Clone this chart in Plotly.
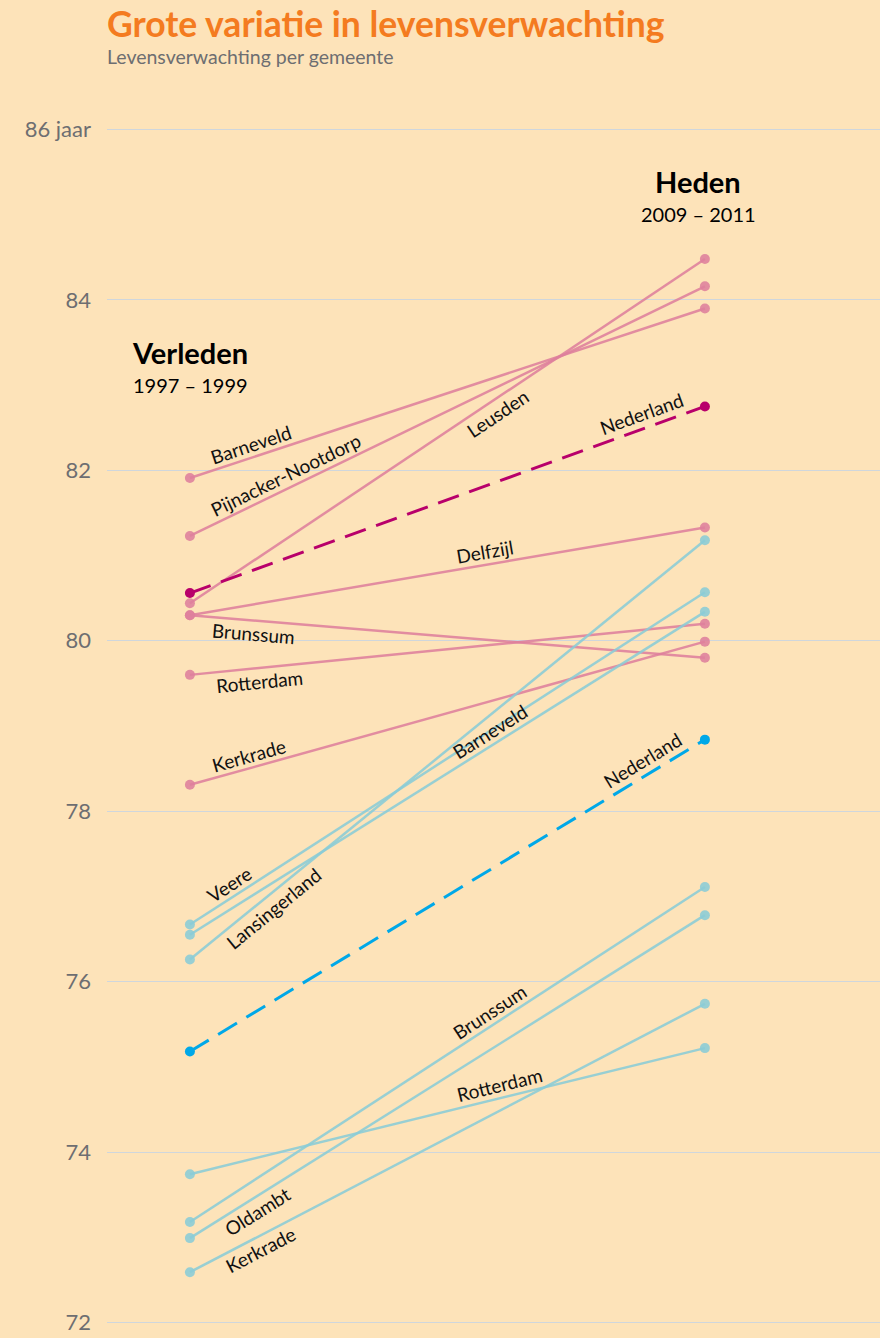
import math
import plotly.graph_objects as go

# Levensverwachting per gemeente: verleden (1997-1999) en heden (2009-2011)
vrouwen_namen = ["Barneveld", "Pijnacker-Nootdorp", "Leusden", "Delfzijl",
                 "Brunssum", "Rotterdam", "Kerkrade"]
vrouwen_verleden = [81.91, 81.23, 80.44, 80.30, 80.30, 79.60, 78.31]
vrouwen_heden = [83.90, 84.16, 84.48, 81.33, 79.80, 80.20, 79.99]

mannen_namen = ["Veere", "Barneveld", "Lansingerland", "Brunssum",
                "Oldambt", "Rotterdam", "Kerkrade"]
mannen_verleden = [76.67, 76.55, 76.26, 73.18, 72.99, 73.74, 72.59]
mannen_heden = [80.57, 80.34, 81.18, 77.11, 76.78, 75.22, 75.74]

nederland_vrouwen = [80.56, 82.75]
nederland_mannen = [75.18, 78.84]

y_ticks = [72, 74, 76, 78, 80, 82, 84, 86]
y_ticktext = ["72", "74", "76", "78", "80", "82", "84", "86 jaar"]

# label placement along each line: fraction along x and side (+1 above, -1 below)
vrouwen_label_pos = [(0.126, 1), (0.198, 1), (0.583, -1), (0.577, 1),
                     (0.126, -1), (0.132, -1), (0.12, 1)]
mannen_label_pos = [(0.089, 1), (0.596, 1), (0.146, -1), (0.596, 1),
                    (0.117, -1), (0.608, 1), (0.126, -1)]

W, H = 880, 1338
M_L, M_R, M_T, M_B = 107, 0, 120.5, 6.5
X_RANGE = [-0.161, 1.340]
Y_RANGE = [71.9, 86.1]
plot_w = W - M_L - M_R
plot_h = H - M_T - M_B
X_PX = plot_w / (X_RANGE[1] - X_RANGE[0])
Y_PX = plot_h / (Y_RANGE[1] - Y_RANGE[0])

BG = "#fde3b9"
PINK = "rgba(222,128,156,0.88)"
BLUE = "rgba(138,204,214,0.88)"
NL_PINK = "#b8006b"
NL_BLUE = "#00a8e8"
FONT = "Lato"

fig = go.Figure()
annotations = []


def add_label(text, v0, v1, t, side, offset=13):
    angle = math.atan((v1 - v0) * Y_PX / X_PX)
    y = v0 + t * (v1 - v0)
    d = side * offset
    annotations.append(dict(
        x=t, y=y, xref="x", yref="y", text=text, showarrow=False,
        textangle=-math.degrees(angle),
        xshift=-d * math.sin(angle), yshift=d * math.cos(angle),
        xanchor="center", yanchor="middle",
        font=dict(family=FONT, size=19, color="#111111"),
    ))


def add_line(v0, v1, color, width=2.5, dash="solid", msize=10):
    fig.add_trace(go.Scatter(
        x=[0, 1], y=[v0, v1], mode="lines+markers",
        line=dict(color=color, width=width, dash=dash),
        marker=dict(color=color, size=msize),
        hoverinfo="skip", showlegend=False,
    ))


for naam, a, b, (t, s) in zip(vrouwen_namen, vrouwen_verleden, vrouwen_heden, vrouwen_label_pos):
    add_line(a, b, PINK)
    add_label(naam, a, b, t, s)

for naam, a, b, (t, s) in zip(mannen_namen, mannen_verleden, mannen_heden, mannen_label_pos):
    add_line(a, b, BLUE)
    add_label(naam, a, b, t, s)

add_line(*nederland_vrouwen, NL_PINK, width=3, dash="22px,11px", msize=10)
add_label("Nederland", *nederland_vrouwen, 0.887, 1, offset=15)
add_line(*nederland_mannen, NL_BLUE, width=3, dash="22px,11px", msize=10)
add_label("Nederland", *nederland_mannen, 0.893, 1, offset=15)


def px_x(px):
    return (px - M_L) / plot_w


def px_y(py):
    return (H - M_B - py) / plot_h


def header(text, cx, cy, size, color, bold=False, anchor="center"):
    annotations.append(dict(
        x=px_x(cx), y=px_y(cy), xref="paper", yref="paper",
        text=f"<b>{text}</b>" if bold else text, showarrow=False,
        xanchor=anchor, yanchor="middle",
        font=dict(family=FONT, size=size, color=color),
    ))


header("Grote variatie in levensverwachting", 105, 23, 35.5, "#f47b20", bold=True, anchor="left")
header("Levensverwachting per gemeente", 105, 56, 19.5, "#6d6e71", anchor="left")
header("Verleden", 190, 352, 29, "#000000", bold=True)
header("1997 – 1999", 190, 385, 20, "#000000")
header("Heden", 698, 181, 29, "#000000", bold=True)
header("2009 – 2011", 698, 214, 20, "#000000")

fig.update_layout(
    width=W, height=H,
    margin=dict(l=M_L, r=M_R, t=M_T, b=M_B, pad=0),
    paper_bgcolor=BG, plot_bgcolor=BG,
    xaxis=dict(range=X_RANGE, visible=False, fixedrange=True),
    yaxis=dict(
        range=Y_RANGE, tickvals=y_ticks, ticktext=y_ticktext,
        showgrid=True, gridcolor="#cfd6dc", gridwidth=1,
        zeroline=False, showline=False, ticks="",
        ticklabelstandoff=15,
        tickfont=dict(family=FONT, size=22, color="#6d6e71"),
        fixedrange=True,
    ),
    annotations=annotations,
)

fig.write_html("out.html")
